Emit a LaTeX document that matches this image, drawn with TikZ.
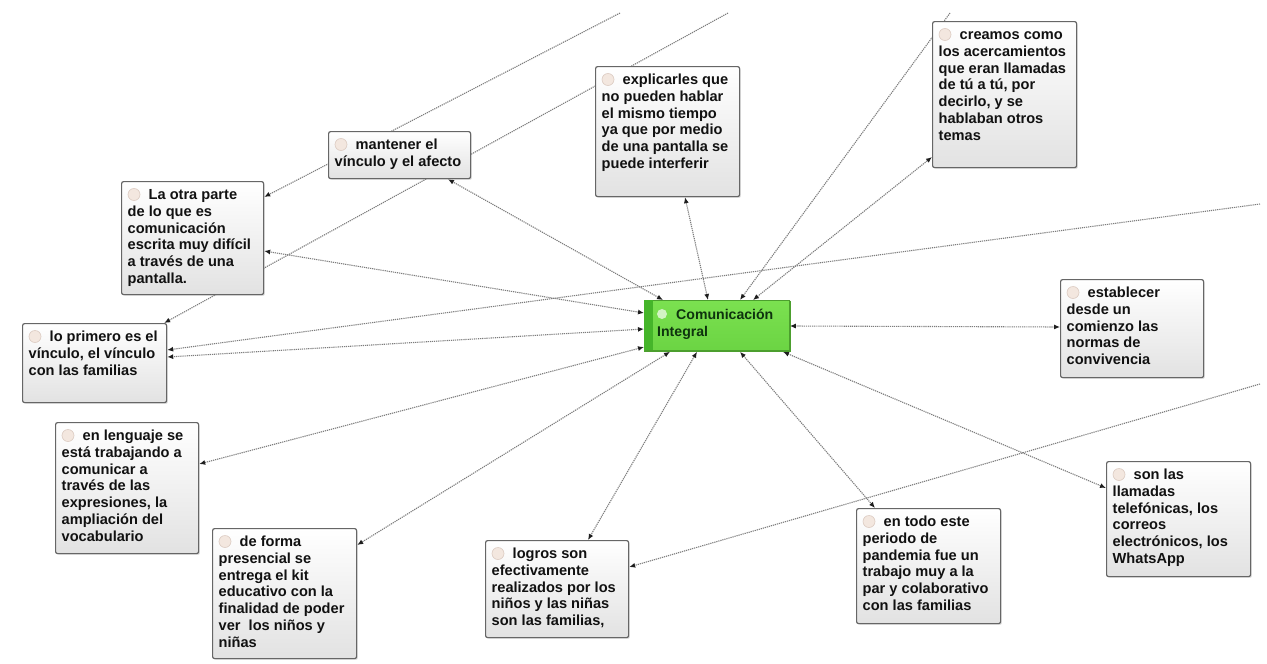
\documentclass[tikz,border=0pt]{standalone}
\usepackage{fontspec}
\setmainfont{Liberation Sans}
\usetikzlibrary{arrows.meta,shadows}
\definecolor{linkc}{HTML}{7C7C7C}
\definecolor{tipc}{HTML}{1E1E1E}
\definecolor{boxline}{HTML}{666666}
\definecolor{boxbot}{HTML}{E2E2E2}
\definecolor{iconf}{HTML}{F3E7DF}
\definecolor{icond}{HTML}{DCCBC2}
\definecolor{textc}{HTML}{111111}
\definecolor{cfill}{HTML}{7BE150}
\definecolor{cfillb}{HTML}{6BD443}
\definecolor{cstripe}{HTML}{45B52A}
\definecolor{cedge}{HTML}{4C9F2E}
\definecolor{ctext}{HTML}{0E330E}
\definecolor{cicon}{HTML}{D2F3C4}
\pgfdeclarelayer{bg}
\pgfsetlayers{bg,main}
\newcommand\memobox[6]{%
  \node[memo, minimum width=#4pt, minimum height=#5pt] (#1) at (#2,#3) {};
  \filldraw[fill=iconf, draw=icond, line width=0.6pt] ([shift={(13,13.5)}]#1.north west) circle (6);
  \node[memotext] (#1-t) at ([shift={(6.5,7)}]#1.north west) {\strut\hspace*{21pt}#6};
}
\begin{document}
\begin{tikzpicture}[x=1pt,y=-1pt,
  memo/.style={draw=boxline, line width=1.2pt, rounded corners=2pt, top color=white, bottom color=boxbot,
    anchor=north west, inner sep=0pt, drop shadow={shadow xshift=1.3pt,shadow yshift=-1.3pt,opacity=0.25}},
  memotext/.style={anchor=north west, inner sep=0pt, align=left, font=\fontsize{14.6}{16.7}\selectfont\bfseries, text=textc},
  link/.style={draw=linkc, line width=1.1pt, dash pattern=on 1.2pt off 0.9pt,
    {Latex[length=6pt,width=5pt,color=tipc]}-{Latex[length=6pt,width=5pt,color=tipc]}},
  linkend/.style={draw=linkc, line width=1.1pt, dash pattern=on 1.2pt off 0.9pt,
    -{Latex[length=6pt,width=5pt,color=tipc]}},
]
\useasboundingbox (0,0) rectangle (1267,664);

% boxes
\memobox{mant}{328}{131}{142}{47}{mantener el\\vínculo y el afecto}
\memobox{otra}{121}{181}{142}{113}{La otra parte\\de lo que es\\comunicación\\escrita muy difícil\\a través de una\\pantalla.}
\memobox{expl}{595}{66}{144}{130}{explicarles que\\no pueden hablar\\el mismo tiempo\\ya que por medio\\de una pantalla se\\puede interferir}
\memobox{crea}{932}{21}{144}{146}{creamos como\\los acercamientos\\que eran llamadas\\de tú a tú, por\\decirlo, y se\\hablaban otros\\temas}
\memobox{esta}{1060}{279}{143}{98}{establecer\\desde un\\comienzo las\\normas de\\convivencia}
\memobox{prim}{22}{323}{144}{79}{lo primero es el\\vínculo, el vínculo\\con las familias}
\memobox{leng}{55}{422}{143}{131}{en lenguaje se\\está trabajando a\\comunicar a\\través de las\\expresiones, la\\ampliación del\\vocabulario}
\memobox{form}{212}{528}{144}{130}{de forma\\presencial se\\entrega el kit\\educativo con la\\finalidad de poder\\ver\ \ los niños y\\niñas}
\memobox{logr}{485}{540}{143}{97}{logros son\\efectivamente\\realizados por los\\niños y las niñas\\son las familias,}
\memobox{todo}{856}{508}{144}{115}{en todo este\\periodo de\\pandemia fue un\\trabajo muy a la\\par y colaborativo\\con las familias}
\memobox{llam}{1106}{461}{144}{115}{son las\\llamadas\\telefónicas, los\\correos\\electrónicos, los\\WhatsApp}

% central code
\node[anchor=north west, inner sep=0pt, minimum width=145pt, minimum height=51pt,
  top color=cfill, bottom color=cfillb, draw=cedge, line width=0.8pt] (c) at (644,300) {};
\fill[cstripe] ([shift={(0.4,0.4)}]c.north west) rectangle ([shift={(9,-0.4)}]c.south west);
\draw[cedge, line width=1.4pt] ([shift={(0,0.7)}]c.north east) -- ([shift={(0,-0.7)}]c.south east) -- ([shift={(0.7,-0.7)}]c.south west);
\fill[cicon] ([shift={(18,14)}]c.north west) circle (5);
\node[anchor=north west, inner sep=0pt, align=left, font=\fontsize{14.1}{17}\selectfont\bfseries, text=ctext]
  (c-t) at ([shift={(13,7.2)}]c.north west) {\strut\hspace*{19pt}Comunicación\\Integral};

% free ends of long connectors (they leave the visible area)
\coordinate (top1) at (950,13);
\coordinate (top2) at (620,13);
\coordinate (top3) at (728,13);
\coordinate (rgt1) at (1260,204);
\coordinate (rgt2) at (1260,384);

\begin{pgfonlayer}{bg}
\draw[link] ([shift={(19,0)}]c.north west) -- ([shift={(120,0)}]mant.south west);
\draw[link] ([shift={(0,13)}]c.north west) -- ([shift={(0,70)}]otra.north east);
\draw[link] ([shift={(0,29)}]c.north west) -- ([shift={(0,34)}]prim.north east);
\draw[link] ([shift={(0,47)}]c.north west) -- ([shift={(0,42)}]leng.north east);
\draw[link] ([shift={(26,0)}]c.south west) -- ([shift={(0,17)}]form.north east);
\draw[link] ([shift={(53,0)}]c.south west) -- ([shift={(103,0)}]logr.north west);
\draw[link] ([shift={(96,0)}]c.south west) -- ([shift={(19,0)}]todo.north west);
\draw[link] ([shift={(139,0)}]c.south west) -- ([shift={(0,27)}]llam.north west);
\draw[link] ([shift={(0,26)}]c.north east) -- ([shift={(0,48)}]esta.north west);
\draw[link] ([shift={(64,0)}]c.north west) -- ([shift={(90,0)}]expl.south west);
\draw[link] ([shift={(109,0)}]c.north west) -- ([shift={(0,136)}]crea.north west);
\draw[linkend] (top1) -- ([shift={(96,0)}]c.north west);
\draw[linkend] (rgt1) -- ([shift={(0,27)}]prim.north east);
\draw[linkend] (rgt2) -- ([shift={(0,27)}]logr.north east);
\draw[linkend] (top2) -- ([shift={(0,16)}]otra.north east);
\draw[linkend] (top3) -- ([shift={(-3,0)}]prim.north east);
\end{pgfonlayer}
\end{tikzpicture}
\end{document}
